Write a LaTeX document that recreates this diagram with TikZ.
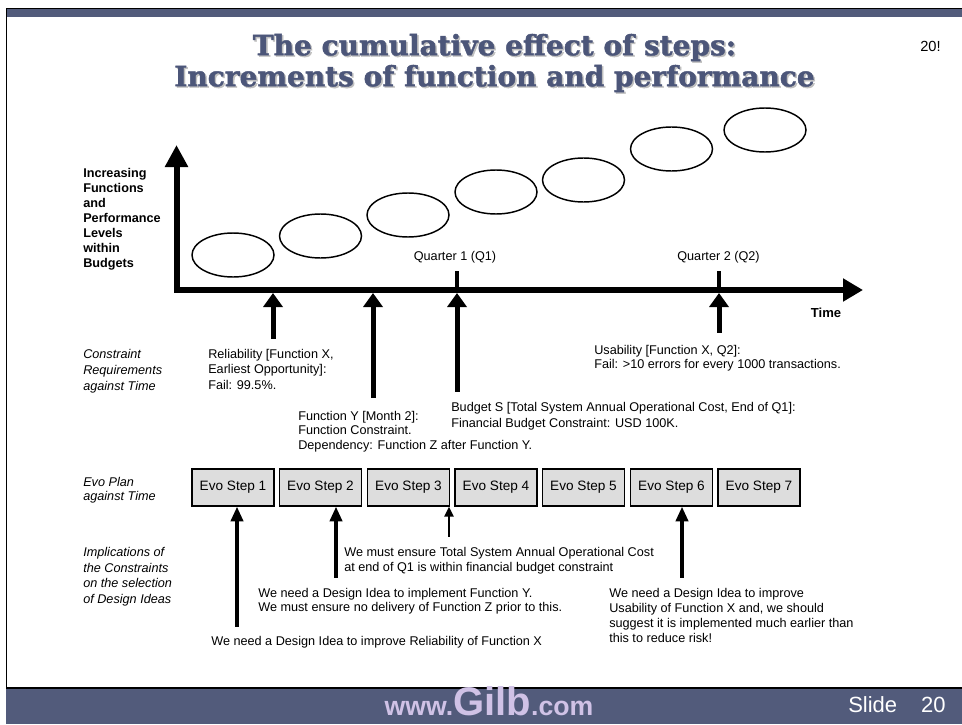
\documentclass[tikz,border=0pt]{standalone}
\usepackage{fontspec}
\setmainfont{Liberation Sans}
\newfontfamily\slabfont{DejaVu Serif}[BoldFeatures={FakeBold=1.6}]
\usepackage{tikz}
\usetikzlibrary{arrows.meta,positioning,shapes.geometric}
\definecolor{slate}{RGB}{82,91,123}
\definecolor{titleblue}{RGB}{76,86,121}
\definecolor{lavender}{RGB}{208,194,230}
\definecolor{boxgray}{RGB}{221,221,221}
\tikzset{
  txt/.style={inner sep=0pt, anchor=north west, align=left, font=\fontsize{9.5}{11.3}\selectfont},
  rowlbl/.style={txt, font=\fontsize{9.5}{11.8}\selectfont\itshape},
  evobox/.style={draw, line width=0.9pt, fill=boxgray, minimum width=61.5pt, minimum height=27.75pt, inner sep=0pt, font=\fontsize{10.2}{12}\selectfont},
  blob/.style={draw, ellipse, line width=1.1pt, minimum width=61.5pt, minimum height=33pt},
  bigup/.style={<-, >={Triangle[width=14.25pt,length=10.5pt]}, line width=3.75pt},
  midup/.style={<-, >={Triangle[width=9pt,length=11pt]}, line width=2.8pt},
  thinup/.style={<-, >={Triangle[width=6.75pt,length=7.5pt]}, line width=1.65pt}
}
\begin{document}
\begin{tikzpicture}[x=0.75pt,y=-0.75pt]
\useasboundingbox (0,0) rectangle (962,724);
% slide frame
\fill[slate] (6,9) rectangle (962,17);
\draw[line width=1pt] (6,8.5) -- (962,8.5);
\draw[line width=1.2pt] (6.5,8.5) -- (6.5,688);
\fill[slate] (6,689) rectangle (962,724);
\draw[line width=1.5pt] (6,688) -- (962,688);

\node[text=gray!50, align=center, font=\slabfont\bfseries\fontsize{21}{23.25}\selectfont] at (496,64.5) {The cumulative effect of steps:\\Increments of function and performance};
\node[text=titleblue, align=center, font=\slabfont\bfseries\fontsize{21}{23.25}\selectfont] (title) at (494.5,63) {The cumulative effect of steps:\\Increments of function and performance};
\node[anchor=base west, inner sep=0pt, font=\fontsize{11}{13}\selectfont] (pgno) at (920,51) {20!};

% axes
\coordinate (orig) at (176.5,290);
\coordinate (ytop) at (176.5,145);
\coordinate (xend) at (863,290);
\coordinate (under) at (176.5,293);
\draw[line width=4.5pt, {Triangle[width=16.5pt,length=16.5pt]}-{Triangle[width=16.5pt,length=15pt]}] (ytop) -- (orig) -- (xend);

\foreach \n/\x/\y in {1/233/255, 2/320.5/236, 3/408/215, 4/496/192, 5/583.5/180, 6/671.5/149, 7/765/130}
  \node[blob] (lvl\n) at (\x,\y) {};

\node[txt, font=\fontsize{9.5}{11.25}\selectfont\bfseries] (ylbl) at (83,168.5) {Increasing\\Functions\\and\\Performance\\Levels\\within\\Budgets};
\node[font=\fontsize{9.5}{11}\selectfont] (q1lbl) at (455,257) {Quarter 1 (Q1)};
\node[font=\fontsize{9.5}{11}\selectfont] (q2lbl) at (718.5,257) {Quarter 2 (Q2)};
\node[font=\fontsize{9.8}{11}\selectfont\bfseries] (time) at (826,313) {Time};
\coordinate (q1top) at (457,271);
\coordinate (q2top) at (719,271);
\draw[line width=3pt] (q1top) -- (q1top |- orig);
\draw[line width=3pt] (q2top) -- (q2top |- orig);

% constraints
\node[rowlbl, font=\fontsize{9.5}{12}\selectfont\itshape] (conlbl) at (83,349) {Constraint\\Requirements\\against Time};
\node[txt, font=\fontsize{9.5}{11.6}\selectfont] (rel) at (208,349) {Reliability [Function X,\\Earliest Opportunity]:\\Fail: 99.5\%.};
\node[txt, font=\fontsize{9.5}{10.8}\selectfont] (funy) at (298,411) {Function Y [Month 2]:\\Function Constraint.\\Dependency: Function Z after Function Y.};
\node[txt, font=\fontsize{9.5}{12}\selectfont] (budget) at (451,402) {Budget S [Total System Annual Operational Cost, End of Q1]:\\Financial Budget Constraint: USD 100K.};
\node[txt, font=\fontsize{9.5}{10.5}\selectfont] (usab) at (594,345) {Usability [Function X, Q2]:\\Fail: >10 errors for every 1000 transactions.};
\coordinate (f1) at (273,339);
\coordinate (f2) at (373,398);
\coordinate (f3) at (457,392);
\coordinate (f4) at (719,333);
\foreach \f in {f1,f2,f3,f4}
  \draw[bigup] (under -| \f) -- (\f);

% evo plan
\node[rowlbl, font=\fontsize{9.5}{10.5}\selectfont\itshape] (evolbl) at (83,477) {Evo Plan\\against Time};
\foreach \n/\x in {1/233, 2/320.5, 3/408.5, 4/496, 5/583.5, 6/671.5, 7/759}
  \node[evobox] (step\n) at (\x,487.5) {Evo Step \n};

% implications
\node[rowlbl] (implbl) at (83,547) {Implications of\\the Constraints\\on the selection\\of Design Ideas};
\node[txt] (cost) at (344,547) {We must ensure Total System Annual Operational Cost\\at end of Q1 is within financial budget constraint};
\node[txt, font=\fontsize{9.5}{10.9}\selectfont] (ideay) at (258,588) {We need a Design Idea to implement Function Y.\\We must ensure no delivery of Function Z prior to this.};
\node[txt] (ideax) at (211,636) {We need a Design Idea to improve Reliability of Function X};
\node[txt] (ideau) at (609,588) {We need a Design Idea to improve\\Usability of Function X and, we should\\suggest it is implemented much earlier than\\this to reduce risk!};
\coordinate (a1) at (237,627);
\coordinate (a2) at (336,578);
\coordinate (a3) at (449,537);
\coordinate (a6) at (682,578);
\draw[midup] (step1.south -| a1) -- (a1);
\draw[midup] (step2.south -| a2) -- (a2);
\draw[thinup] (step3.south -| a3) -- (a3);
\draw[midup] (step6.south -| a6) -- (a6);

% footer
\node[text=lavender, anchor=base, inner sep=0pt, font=\bfseries] (site) at (489,715) {{\fontsize{20}{21}\selectfont www.}{\fontsize{30}{31}\selectfont Gilb}{\fontsize{20}{21}\selectfont .com}};
\node[text=white, anchor=base west, inner sep=0pt, font=\fontsize{16.5}{18}\selectfont] (slide) at (848,712) {Slide\hspace{18pt}20};
\end{tikzpicture}
\end{document}
